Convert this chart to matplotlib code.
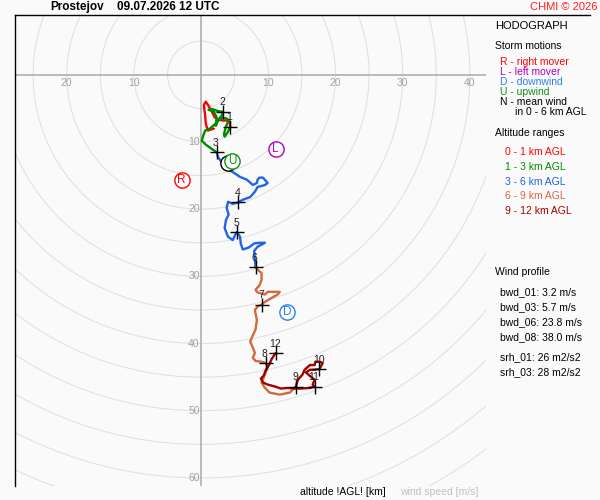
import numpy as np
import matplotlib
matplotlib.use('Agg')
import matplotlib.pyplot as plt
from matplotlib.lines import Line2D
from matplotlib.patches import Circle

plt.rcParams['font.family'] = ['Liberation Sans', 'DejaVu Sans']

# hodograph trace, u / v wind components [m/s], split into altitude layers
u_0_1 = [1.9, 1.0, 0.7, 0.6, 0.4, 0.7, 1.1, 1.6, 2.0, 2.6, 3.2, 3.8, 4.3, 4.3]
v_0_1 = [-8.0, -8.3, -7.3, -6.0, -4.5, -4.0, -4.6, -5.5, -6.3, -6.7, -6.8, -6.8, -7.1, -7.7]

u_1_3 = [4.3, 4.0, 3.5, 3.4, 3.7, 4.1, 3.8, 3.1, 2.5, 2.2, 2.3, 1.9, 1.1, 1.7, 2.5, 3.2,
         3.1, 2.6, 2.0, 1.3, 0.6, 0.3, 0.1, 0.7, 1.4, 2.3]
v_1_3 = [-7.7, -8.5, -9.2, -8.8, -7.7, -6.8, -6.5, -6.4, -6.8, -7.6, -6.3, -5.5, -5.2, -5.1,
         -5.4, -5.5, -6.0, -6.7, -7.4, -8.0, -8.3, -9.1, -9.8, -10.4, -10.9, -11.5]

u_3_6 = [2.3, 2.5, 3.1, 3.5, 4.6, 5.8, 6.8, 7.7, 8.3, 8.4, 8.7, 9.2, 9.9, 9.5, 8.4, 8.0,
         7.3, 6.2, 5.5, 4.7, 4.0, 3.8, 4.1, 3.7, 3.5, 4.0, 4.7, 5.3, 5.8, 5.9, 6.2, 7.1,
         7.9, 8.7, 9.5, 8.4, 7.9, 8.0, 8.1]
v_3_6 = [-11.5, -12.2, -13.1, -13.8, -14.4, -15.2, -15.6, -16.4, -16.1, -15.6, -15.3,
         -15.3, -16.1, -16.4, -16.7, -17.4, -18.2, -18.6, -19.0, -19.2, -18.9, -19.8,
         -20.8, -21.6, -22.8, -24.1, -24.6, -23.4, -24.1, -25.1, -26.0, -25.7, -25.1,
         -25.0, -25.0, -25.6, -26.2, -27.2, -28.6]

u_6_9 = [8.1, 8.4, 9.0, 9.0, 8.7, 8.1, 8.4, 9.5, 9.9, 11.0, 11.7, 11.4, 10.5, 9.5, 9.0,
         8.4, 8.0, 8.3, 8.1, 7.6, 7.3, 7.7, 8.0, 7.7, 8.1, 9.0, 9.6,
         9.9, 9.6, 9.3, 9.0, 9.5, 10.2, 11.7, 13.2, 14.1]
v_6_9 = [-28.6, -29.0, -29.5, -30.5, -31.3, -32.0, -32.4, -32.7, -32.3, -32.3, -32.3,
         -32.7, -33.2, -33.8, -34.2, -34.5, -35.0, -36.5, -37.9, -39.0, -39.7, -40.6,
         -41.4, -42.1, -42.6, -42.7, -42.9, -43.5, -44.3, -45.1, -45.8, -46.6, -47.3,
         -47.6, -47.3, -46.4]

u_9_12 = [14.1, 14.4, 15.1, 15.4, 16.2, 16.9, 17.0, 17.6, 18.1, 17.6, 16.9, 16.2, 15.6,
          16.3, 16.9, 16.6, 16.9, 16.2, 14.8, 13.9, 12.9, 11.9, 11.0, 9.9, 9.2, 8.9,
          9.3, 9.6, 10.1, 10.5, 11.1]
v_9_12 = [-46.4, -45.4, -44.6, -43.9, -43.2, -43.2, -42.7, -42.7, -42.9, -43.8, -43.9,
          -43.9, -44.3, -44.9, -45.4, -46.1, -46.4, -46.6, -46.7, -46.7, -46.6, -46.7,
          -46.4, -46.1, -45.8, -45.2, -44.8, -44.0, -43.2, -42.3, -41.4]

# altitude marks (km AGL)
alt_km = [1, 2, 3, 4, 5, 6, 7, 8, 9, 10, 11, 12]
alt_u = [4.3, 3.2, 2.3, 5.5, 5.3, 8.1, 9.0, 9.6, 14.1, 17.6, 16.9, 11.1]
alt_v = [-7.7, -5.5, -11.5, -19.0, -23.4, -28.6, -34.2, -42.9, -46.4, -43.8, -46.4, -41.4]

# storm motions (N = mean wind, hidden under U)
storm_lbl = ['N', 'R', 'L', 'U', 'D']
storm_u = [4.0, -2.9, 11.1, 4.6, 12.8]
storm_v = [-13.2, -15.6, -11.0, -12.9, -35.3]

x_ticks = [-20, -10, 10, 20, 30, 40]
y_ticks = [-10, -20, -30, -40, -50, -60]

wind_profile = ['bwd_01: 3.2 m/s', 'bwd_03: 5.7 m/s', 'bwd_06: 23.8 m/s',
                'bwd_08: 38.0 m/s', 'srh_01: 26 m2/s2', 'srh_03: 28 m2/s2']

bg = '#fafafa'
layer_col = ['#ff0000', '#008c00', '#1e64e6', '#d2693c', '#a00000']
storm_col = {'N': 'black', 'R': '#ff0000', 'L': '#b000c0', 'U': '#109010', 'D': '#2e7ff0'}

W, H = 600, 500
fig = plt.figure(figsize=(6, 5), dpi=100, facecolor=bg)
ax = fig.add_axes([15 / W, 14 / H, 471 / W, 471 / H])
ax.set_facecolor(bg)
ax.set_xlim(-27.7, 42.4)
ax.set_ylim(-61.2, 8.9)
for s in ['top', 'right', 'bottom']:
    ax.spines[s].set_visible(False)
ax.spines['left'].set_color('black')
ax.spines['left'].set_linewidth(1)
ax.set_xticks([])
ax.set_yticks([])

for r in np.arange(5, 80, 5):
    ax.add_patch(Circle((0, 0), r, fill=False, ec='#e0e0e0', lw=0.75))
ax.axhline(0, color='#a8a8a8', lw=1.1)
ax.axvline(0, color='#a8a8a8', lw=1.1)

for t in x_ticks:
    ax.annotate(str(abs(t)), (t, 0), xytext=(0, -6.2), textcoords='offset points',
                ha='center', va='center', color='#a0a0a0', fontsize=7.5)
for t in y_ticks:
    ax.annotate(str(abs(t)), (0, t), xytext=(-1, 0), textcoords='offset points',
                ha='right', va='center', color='#a0a0a0', fontsize=7.5)

layers = [(u_0_1, v_0_1), (u_1_3, v_1_3), (u_3_6, v_3_6), (u_6_9, v_6_9), (u_9_12, v_9_12)]
for (u, v), c in zip(layers, layer_col):
    ax.plot(u, v, color=c, lw=1.7, solid_joinstyle='round', solid_capstyle='round')

ax.plot(alt_u, alt_v, '+', color='black', ms=10, mew=1)
for k, u, v in zip(alt_km, alt_u, alt_v):
    ax.annotate(str(k), (u, v), xytext=(-0.5, 6.8), textcoords='offset points',
                ha='center', va='center', color='#202020', fontsize=7.5)

for lbl, u, v in zip(storm_lbl, storm_u, storm_v):
    c = storm_col[lbl]
    ax.plot(u, v, 'o', ms=11, mfc='white', mec=c, mew=1)
    if lbl != 'N':
        ax.text(u, v, lbl, color=c, ha='center', va='center', fontsize=8.5)

# header
fig.add_artist(Line2D([15 / W, 590 / W], [1 - 15 / H] * 2, color='black', lw=1))
fig.text(50 / W, 1 - 7 / H, 'Prostejov', fontsize=8.5, fontweight='bold', va='center')
fig.text(117 / W, 1 - 7 / H, '09.07.2026 12 UTC', fontsize=8.5, fontweight='bold', va='center')
fig.text(597 / W, 1 - 7 / H, 'CHMI © 2026', fontsize=8, color='#ff2020', ha='right', va='center')

# right panel
def ptext(x, y, s, c='black', size=7.5):
    fig.text(x / W, 1 - y / H, s, color=c, fontsize=size, va='center')

ptext(495, 26, 'HODOGRAPH', size=8)
ptext(495, 46, 'Storm motions')
ptext(500, 62, 'R - right mover', storm_col['R'])
ptext(500, 72, 'L - left mover', storm_col['L'])
ptext(500, 82, 'D - downwind', storm_col['D'])
ptext(500, 92, 'U - upwind', storm_col['U'])
ptext(500, 102, 'N - mean wind')
ptext(515, 112, 'in 0 - 6 km AGL')
ptext(495, 133, 'Altitude ranges')
alt_ranges = ['0 - 1 km AGL', '1 - 3 km AGL', '3 - 6 km AGL', '6 - 9 km AGL', '9 - 12 km AGL']
for i, (s, c) in enumerate(zip(alt_ranges, layer_col)):
    ptext(505, 152 + i * 14.8, s, c)
ptext(495, 272, 'Wind profile')
wp_y = [292, 307, 322, 337, 357, 372]
for s, y in zip(wind_profile, wp_y):
    ptext(500, y, s)

fig.text(300 / W, 1 - 492 / H, 'altitude !AGL! [km]', fontsize=7.5, va='center')
fig.text(400 / W, 1 - 492 / H, 'wind speed [m/s]', fontsize=7.5, va='center', color='#c0c0c0')

fig.savefig('out.png', dpi=100, facecolor=bg)
